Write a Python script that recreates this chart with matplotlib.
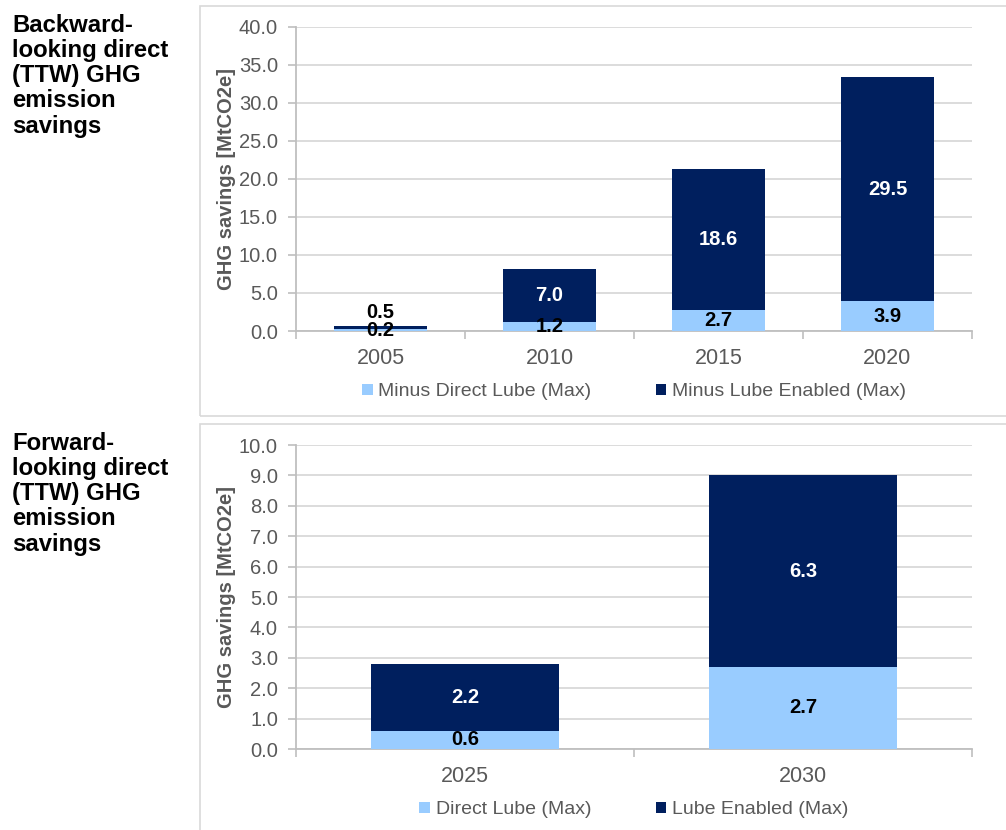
import matplotlib
matplotlib.use("Agg")
import matplotlib.pyplot as plt
from matplotlib.patches import Rectangle, Patch
from matplotlib.ticker import MultipleLocator, FixedLocator

plt.rcParams['font.family'] = ['Liberation Sans', 'DejaVu Sans']

# Backward-looking savings (MtCO2e)
back_years = ['2005', '2010', '2015', '2020']
back_direct = [0.2, 1.2, 2.7, 3.9]
back_enabled = [0.5, 7.0, 18.6, 29.5]
back_names = ['Minus Direct Lube (Max)', 'Minus Lube Enabled (Max)']

# Forward-looking savings (MtCO2e)
fwd_years = ['2025', '2030']
fwd_direct = [0.6, 2.7]
fwd_enabled = [2.2, 6.3]
fwd_names = ['Direct Lube (Max)', 'Lube Enabled (Max)']

LIGHT = '#99CCFF'
DARK = '#001F5E'
GRID = '#D9D9D9'
AXIS = '#BFBFBF'
TEXT = '#595959'

W, H = 1006, 830
fig = plt.figure(figsize=(W / 100, H / 100), dpi=100)


def fx(px):
    return px / W


def fy(py):
    return 1 - py / H


def stacked_panel(rect, years, direct, enabled, names, ymax, step, title, box):
    # light grey frame round each panel
    bx0, by0, bx1, by1 = box
    fig.patches.append(Rectangle((fx(bx0), fy(by1)), fx(bx1 - bx0), fy(by0) - fy(by1),
                                 transform=fig.transFigure, fill=False,
                                 edgecolor=GRID, linewidth=1.2, zorder=0))
    fig.text(fx(12), fy(by0 + 8), title, ha='left', va='top', fontsize=17.2,
             fontweight='bold', color='black', linespacing=1.12)

    ax = fig.add_axes(rect)
    x = list(range(len(years)))
    width = 0.556
    ax.bar(x, direct, width, color=LIGHT, zorder=3)
    ax.bar(x, enabled, width, bottom=direct, color=DARK, zorder=3)

    for i in x:
        ax.text(i, direct[i] / 2, f'{direct[i]:.1f}', ha='center', va='center',
                fontsize=14.5, fontweight='bold', color='black', zorder=4)
        if enabled[i] < 1:
            # too thin to hold its label: put it above the bar
            ax.annotate(f'{enabled[i]:.1f}', (i, direct[i] + enabled[i]),
                        xytext=(0, 3), textcoords='offset points',
                        ha='center', va='bottom', fontsize=14.5,
                        fontweight='bold', color='black', zorder=4)
        else:
            ax.text(i, direct[i] + enabled[i] / 2, f'{enabled[i]:.1f}',
                    ha='center', va='center', fontsize=14.5, fontweight='bold',
                    color='white', zorder=4)

    ax.set_xlim(-0.5, len(years) - 0.5)
    ax.set_ylim(0, ymax)
    ax.yaxis.set_major_locator(MultipleLocator(step))
    ax.set_yticklabels([f'{v:.1f}' for v in ax.get_yticks()])
    ax.grid(axis='y', color=GRID, linewidth=1.3, zorder=0)

    ax.set_xticks(x)
    ax.set_xticklabels(years)
    ax.xaxis.set_minor_locator(FixedLocator([i - 0.5 for i in range(len(years) + 1)]))
    ax.tick_params(axis='x', which='major', length=0, pad=12, labelsize=15.5, labelcolor=TEXT)
    ax.tick_params(axis='x', which='minor', length=6, width=1.2, color=AXIS, direction='out')
    ax.tick_params(axis='y', length=6, width=1.2, color=AXIS, pad=7,
                   labelsize=14.5, labelcolor=TEXT)

    for side in ['top', 'right']:
        ax.spines[side].set_visible(False)
    for side in ['left', 'bottom']:
        ax.spines[side].set_color(AXIS)
        ax.spines[side].set_linewidth(1.3)

    ax.set_ylabel('GHG savings [MtCO2e]', fontsize=14.5, fontweight='bold', color=TEXT, labelpad=2)

    handles = [Patch(facecolor=LIGHT), Patch(facecolor=DARK)]
    ax.legend(handles, names, ncol=2, frameon=False, loc='center',
              bbox_to_anchor=(0.5, -0.2), fontsize=14, labelcolor=TEXT,
              handlelength=0.55, handleheight=0.55, handletextpad=0.3,
              columnspacing=3.3)
    return ax


top_title = 'Backward-\nlooking direct\n(TTW) GHG\nemission\nsavings'
bottom_title = 'Forward-\nlooking direct\n(TTW) GHG\nemission\nsavings'

ax1 = stacked_panel([fx(296), fy(331), fx(972 - 296), fy(27) - fy(331)],
                    back_years, back_direct, back_enabled, back_names,
                    40, 5, top_title, (200, 6, 1030, 416))

ax2 = stacked_panel([fx(296), fy(749), fx(972 - 296), fy(445) - fy(749)],
                    fwd_years, fwd_direct, fwd_enabled, fwd_names,
                    10, 1, bottom_title, (200, 424, 1030, 850))

fig.savefig('out.png', dpi=100)
